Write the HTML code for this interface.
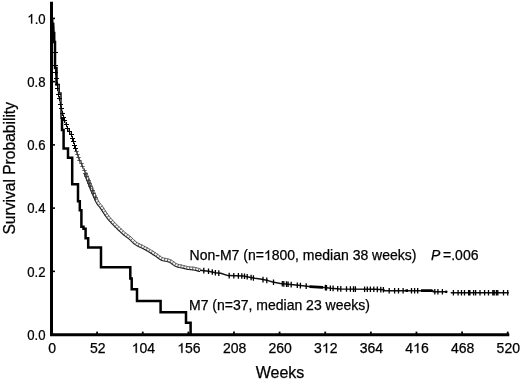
<!DOCTYPE html>
<html><head><meta charset="utf-8"><title>Survival</title>
<style>
html,body{margin:0;padding:0;background:#fff;}
body{width:520px;height:379px;overflow:hidden;}
svg{display:block;filter:grayscale(1);}
text{font-family:"Liberation Sans", sans-serif;font-size:14px;fill:#000;stroke:#000;stroke-width:0.25px;}
.h{fill:none;stroke:none;}
</style></head>
<body>
<svg width="520" height="379" viewBox="0 0 520 379">
<rect width="520" height="379" fill="#fff"/>
<path d="M51.5 1.8 V334.7 H509.3" fill="none" stroke="#000" stroke-width="3.0" stroke-linejoin="miter"/>
<path d="M51.5 334.60 H55" stroke="#000" stroke-width="1.6"/>
<text id="t0" transform="translate(45.6 339.80) scale(0.94 1)" text-anchor="end">0.0</text>
<path d="M51.5 271.36 H55" stroke="#000" stroke-width="1.6"/>
<text id="t1" transform="translate(45.6 276.56) scale(0.94 1)" text-anchor="end">0.2</text>
<path d="M51.5 208.12 H55" stroke="#000" stroke-width="1.6"/>
<text id="t2" transform="translate(45.6 213.32) scale(0.94 1)" text-anchor="end">0.4</text>
<path d="M51.5 144.88 H55" stroke="#000" stroke-width="1.6"/>
<text id="t3" transform="translate(45.6 150.08) scale(0.94 1)" text-anchor="end">0.6</text>
<path d="M51.5 81.64 H55" stroke="#000" stroke-width="1.6"/>
<text id="t4" transform="translate(45.6 86.84) scale(0.94 1)" text-anchor="end">0.8</text>
<path d="M51.5 18.40 H55" stroke="#000" stroke-width="1.6"/>
<text id="t5" transform="translate(45.6 23.60) scale(0.94 1)" text-anchor="end"><tspan class="h">1</tspan>.0</text>
<path d="M51.50 334.5 V331.6" stroke="#000" stroke-width="1.8"/>
<text id="t6" x="52.10" y="352.8" text-anchor="middle">0</text>
<path d="M97.12 334.5 V331.6" stroke="#000" stroke-width="1.8"/>
<text id="t7" x="97.72" y="352.8" text-anchor="middle">52</text>
<path d="M142.74 334.5 V331.6" stroke="#000" stroke-width="1.8"/>
<text id="t8" x="143.34" y="352.8" text-anchor="middle"><tspan class="h">1</tspan>04</text>
<path d="M188.36 334.5 V331.6" stroke="#000" stroke-width="1.8"/>
<text id="t9" x="188.96" y="352.8" text-anchor="middle"><tspan class="h">1</tspan>56</text>
<path d="M233.98 334.5 V331.6" stroke="#000" stroke-width="1.8"/>
<text id="t10" x="234.58" y="352.8" text-anchor="middle">208</text>
<path d="M279.60 334.5 V331.6" stroke="#000" stroke-width="1.8"/>
<text id="t11" x="280.20" y="352.8" text-anchor="middle">260</text>
<path d="M325.22 334.5 V331.6" stroke="#000" stroke-width="1.8"/>
<text id="t12" x="325.82" y="352.8" text-anchor="middle">3<tspan class="h">1</tspan>2</text>
<path d="M370.84 334.5 V331.6" stroke="#000" stroke-width="1.8"/>
<text id="t13" x="371.44" y="352.8" text-anchor="middle">364</text>
<path d="M416.46 334.5 V331.6" stroke="#000" stroke-width="1.8"/>
<text id="t14" x="417.06" y="352.8" text-anchor="middle">4<tspan class="h">1</tspan>6</text>
<path d="M462.08 334.5 V331.6" stroke="#000" stroke-width="1.8"/>
<text id="t15" x="462.68" y="352.8" text-anchor="middle">468</text>
<path d="M507.70 334.5 V331.6" stroke="#000" stroke-width="1.8"/>
<text id="t16" x="508.30" y="352.8" text-anchor="middle">520</text>
<text x="280.0" y="378.0" text-anchor="middle" style="font-size:16px">Weeks</text>
<text transform="translate(14.5 168.3) rotate(-90)" text-anchor="middle" style="font-size:15.6px">Survival Probability</text>
<text id="t17" x="189.6" y="260.0">Non-M7 (n=<tspan class="h">1</tspan>800, median 38 weeks)</text>
<text x="431" y="260.0"><tspan font-style="italic">P</tspan><tspan dx="-1.2"> =.006</tspan></text>
<text x="189.0" y="310.2">M7 (n=37, median 23 weeks)</text>
<path d="M51.50 18.40 L51.64 18.76 L51.84 19.24 L52.08 19.82 L52.33 20.49 L52.57 21.22 L52.80 22.00 L53.01 22.79 L53.23 23.60 L53.44 24.48 L53.65 25.47 L53.84 26.62 L54.00 28.00 L54.13 29.62 L54.24 31.44 L54.34 33.44 L54.42 35.56 L54.51 37.76 L54.60 40.00 L54.70 42.33 L54.80 44.78 L54.90 47.31 L55.00 49.89 L55.10 52.47 L55.20 55.00 L55.30 57.56 L55.39 60.19 L55.48 62.81 L55.57 65.37 L55.68 67.79 L55.80 70.00 L55.94 71.98 L56.10 73.78 L56.27 75.44 L56.45 77.00 L56.63 78.51 L56.80 80.00 L56.97 81.45 L57.14 82.82 L57.31 84.13 L57.47 85.41 L57.64 86.70 L57.80 88.00 L57.95 89.32 L58.08 90.63 L58.21 91.94 L58.35 93.25 L58.51 94.57 L58.70 95.90 L58.93 97.28 L59.18 98.71 L59.46 100.16 L59.74 101.56 L60.03 102.89 L60.30 104.10 L60.57 105.19 L60.86 106.19 L61.14 107.11 L61.42 107.96 L61.67 108.75 L61.90 109.50 L62.08 110.14 L62.23 110.66 L62.36 111.11 L62.49 111.58 L62.63 112.12 L62.80 112.80 L63.01 113.67 L63.23 114.67 L63.48 115.75 L63.72 116.84 L63.97 117.88 L64.20 118.80 L64.42 119.60 L64.64 120.32 L64.85 120.99 L65.06 121.63 L65.28 122.26 L65.50 122.90 L65.72 123.53 L65.94 124.14 L66.16 124.74 L66.39 125.34 L66.64 125.96 L66.90 126.60 L67.18 127.28 L67.48 127.99 L67.79 128.71 L68.12 129.43 L68.45 130.13 L68.80 130.80 L69.17 131.43 L69.57 132.04 L69.98 132.63 L70.39 133.21 L70.76 133.80 L71.10 134.40 L71.39 135.00 L71.63 135.60 L71.86 136.19 L72.07 136.80 L72.28 137.44 L72.50 138.10 L72.73 138.79 L72.94 139.49 L73.16 140.21 L73.39 140.96 L73.63 141.75 L73.90 142.60 L74.20 143.51 L74.52 144.48 L74.86 145.49 L75.21 146.52 L75.56 147.57 L75.90 148.60 L76.23 149.64 L76.56 150.70 L76.89 151.78 L77.23 152.84 L77.56 153.89 L77.90 154.90 L78.23 155.86 L78.56 156.76 L78.88 157.64 L79.22 158.54 L79.59 159.48 L80.00 160.50 L80.47 161.63 L80.99 162.85 L81.54 164.12 L82.09 165.38 L82.62 166.59 L83.10 167.70 L83.56 168.75 L84.01 169.80 L84.44 170.80 L84.83 171.70 L85.16 172.45 L85.40 173.00" fill="none" stroke="#222" stroke-width="0.8" stroke-linejoin="round" stroke-linecap="round"/>
<path d="M85.40 173.00 L85.79 173.97 L86.32 175.30 L86.95 176.88 L87.64 178.59 L88.34 180.34 L89.00 182.00 L89.64 183.61 L90.29 185.26 L90.94 186.94 L91.61 188.63 L92.30 190.32 L93.00 192.00 L93.73 193.72 L94.48 195.50 L95.24 197.28 L96.01 199.00 L96.77 200.59 L97.50 202.00 L98.18 203.13 L98.81 204.02 L99.44 204.79 L100.09 205.54 L100.79 206.41 L101.60 207.50 L102.50 208.85 L103.48 210.37 L104.51 212.00 L105.60 213.67 L106.73 215.33 L107.90 216.90 L109.12 218.40 L110.41 219.89 L111.74 221.36 L113.10 222.81 L114.46 224.22 L115.80 225.60 L117.15 226.96 L118.53 228.32 L119.91 229.64 L121.26 230.91 L122.57 232.11 L123.80 233.20 L124.94 234.15 L126.01 234.98 L127.02 235.73 L128.01 236.45 L129.00 237.19 L130.00 238.00 L131.00 238.90 L131.98 239.86 L132.96 240.83 L133.94 241.79 L134.95 242.69 L136.00 243.50 L137.10 244.20 L138.24 244.80 L139.40 245.36 L140.57 245.89 L141.75 246.42 L142.90 247.00 L144.04 247.61 L145.17 248.22 L146.30 248.84 L147.43 249.48 L148.56 250.13 L149.70 250.80 L150.86 251.51 L152.05 252.25 L153.24 253.01 L154.41 253.76 L155.54 254.50 L156.60 255.20 L157.56 255.88 L158.41 256.54 L159.23 257.19 L160.06 257.81 L160.97 258.38 L162.00 258.90 L163.21 259.32 L164.55 259.65 L165.96 259.93 L167.39 260.22 L168.75 260.56 L170.00 261.00 L171.10 261.58 L172.11 262.27 L173.06 263.02 L174.00 263.76 L174.97 264.44 L176.00 265.00 L177.13 265.43 L178.33 265.79 L179.56 266.08 L180.78 266.33 L181.94 266.56 L183.00 266.80 L183.93 267.04 L184.74 267.26 L185.50 267.46 L186.26 267.65 L187.07 267.83 L188.00 268.00 L189.07 268.15 L190.26 268.27 L191.50 268.39 L192.74 268.50 L193.93 268.64 L195.00 268.80 L196.01 269.01 L197.00 269.27 L197.94 269.55 L198.78 269.81 L199.48 270.04 L200.00 270.20" fill="none" stroke="#f2f2f2" stroke-width="3.8" stroke-linejoin="round" stroke-linecap="round"/>
<path d="M84.10 173.52 L84.49 174.49 L85.02 175.82 L85.65 177.39 L86.34 179.11 L87.04 180.86 L87.70 182.52 L88.34 184.12 L88.98 185.77 L89.64 187.45 L90.32 189.15 L91.00 190.85 L91.71 192.54 L92.44 194.26 L93.19 196.05 L93.96 197.84 L94.74 199.59 L95.51 201.22 L96.28 202.68 L97.01 203.90 L97.70 204.87 L98.36 205.68 L99.01 206.44 L99.69 207.27 L100.45 208.30 L101.33 209.62 L102.30 211.12 L103.33 212.76 L104.44 214.45 L105.59 216.14 L106.79 217.76 L108.05 219.30 L109.36 220.82 L110.71 222.31 L112.08 223.77 L113.45 225.19 L114.80 226.58 L116.16 227.95 L117.55 229.32 L118.94 230.66 L120.31 231.94 L121.63 233.15 L122.89 234.26 L124.06 235.24 L125.16 236.10 L126.20 236.86 L127.18 237.58 L128.14 238.30 L129.09 239.07 L130.04 239.92 L131.00 240.85 L131.97 241.83 L132.99 242.81 L134.06 243.77 L135.20 244.65 L136.39 245.41 L137.61 246.05 L138.81 246.63 L139.99 247.16 L141.14 247.68 L142.26 248.24 L143.37 248.84 L144.50 249.45 L145.62 250.07 L146.74 250.70 L147.86 251.34 L148.98 252.00 L150.13 252.70 L151.30 253.43 L152.48 254.18 L153.64 254.94 L154.77 255.67 L155.81 256.36 L156.72 257.00 L157.55 257.64 L158.38 258.30 L159.27 258.97 L160.28 259.60 L161.46 260.19 L162.81 260.66 L164.25 261.02 L165.69 261.30 L167.08 261.58 L168.35 261.90 L169.44 262.28 L170.38 262.78 L171.28 263.40 L172.20 264.12 L173.16 264.88 L174.23 265.63 L175.42 266.27 L176.69 266.76 L177.98 267.14 L179.26 267.44 L180.50 267.70 L181.65 267.93 L182.67 268.16 L183.57 268.39 L184.38 268.61 L185.15 268.82 L185.94 269.02 L186.80 269.20 L187.78 269.38 L188.91 269.54 L190.12 269.67 L191.37 269.78 L192.60 269.90 L193.74 270.02 L194.75 270.18 L195.68 270.38 L196.63 270.62 L197.53 270.89 L198.35 271.15 L199.06 271.38 L199.59 271.54" fill="none" stroke="#1a1a1a" stroke-width="1.1" stroke-linejoin="round" stroke-linecap="round"/>
<path d="M86.70 172.48 L87.09 173.45 L87.62 174.78 L88.25 176.36 L88.94 178.07 L89.64 179.82 L90.30 181.48 L90.94 183.10 L91.59 184.75 L92.25 186.42 L92.91 188.11 L93.59 189.79 L94.29 191.46 L95.02 193.17 L95.77 194.95 L96.53 196.72 L97.28 198.41 L98.02 199.97 L98.72 201.32 L99.35 202.37 L99.93 203.18 L100.51 203.89 L101.16 204.65 L101.90 205.55 L102.75 206.70 L103.68 208.08 L104.66 209.62 L105.69 211.24 L106.76 212.90 L107.87 214.52 L109.01 216.04 L110.20 217.50 L111.46 218.96 L112.77 220.41 L114.12 221.84 L115.47 223.25 L116.80 224.62 L118.14 225.97 L119.50 227.31 L120.87 228.63 L122.21 229.89 L123.51 231.07 L124.71 232.14 L125.82 233.06 L126.85 233.86 L127.85 234.60 L128.85 235.33 L129.86 236.09 L130.91 236.93 L131.96 237.88 L132.97 238.86 L133.94 239.83 L134.90 240.77 L135.84 241.61 L136.80 242.35 L137.80 242.99 L138.87 243.55 L139.99 244.09 L141.15 244.61 L142.35 245.16 L143.54 245.76 L144.70 246.38 L145.84 246.99 L146.98 247.62 L148.12 248.26 L149.27 248.92 L150.42 249.60 L151.60 250.32 L152.80 251.06 L153.99 251.83 L155.17 252.59 L156.30 253.33 L157.39 254.04 L158.39 254.75 L159.28 255.44 L160.08 256.08 L160.85 256.66 L161.65 257.16 L162.54 257.61 L163.60 257.98 L164.85 258.28 L166.24 258.56 L167.69 258.85 L169.15 259.22 L170.56 259.72 L171.83 260.38 L172.94 261.15 L173.93 261.92 L174.84 262.64 L175.70 263.25 L176.58 263.73 L177.58 264.11 L178.69 264.43 L179.86 264.71 L181.06 264.95 L182.23 265.19 L183.33 265.44 L184.28 265.69 L185.10 265.91 L185.85 266.11 L186.58 266.29 L187.35 266.46 L188.22 266.62 L189.24 266.76 L190.40 266.88 L191.63 266.99 L192.88 267.11 L194.11 267.25 L195.25 267.42 L196.33 267.65 L197.37 267.92 L198.34 268.21 L199.20 268.48 L199.90 268.71 L200.41 268.86" fill="none" stroke="#555" stroke-width="0.9" stroke-linejoin="round" stroke-linecap="round"/>
<path d="M87.63 173.72 L84.29 175.06 M88.74 176.51 L85.40 177.84 M89.85 179.29 L86.51 180.62 M90.97 182.08 L87.62 183.40 M92.07 184.87 L88.72 186.19 M93.16 187.65 L89.82 188.98 M94.28 190.40 L90.96 191.78 M95.44 193.15 L92.12 194.55 M96.61 195.90 L93.30 197.32 M97.80 198.58 L94.55 200.12 M99.06 201.10 L95.97 202.96 M100.60 203.36 L97.81 205.64 M102.55 205.75 L99.65 207.89 M104.31 208.32 L101.27 210.26 M105.92 210.86 L102.88 212.79 M107.53 213.31 L104.56 215.34 M109.24 215.69 L106.35 217.83 M111.06 217.89 L108.34 220.25 M113.03 220.10 L110.36 222.52 M115.05 222.24 L112.45 224.73 M117.12 224.37 L114.56 226.90 M119.22 226.48 L116.69 229.04 M121.34 228.52 L118.88 231.15 M123.53 230.55 L121.10 233.20 M125.73 232.46 L123.42 235.23 M128.01 234.22 L125.88 237.12 M130.47 236.07 L128.21 238.87 M132.84 238.17 L130.32 240.75 M134.97 240.28 L132.46 242.86 M136.96 241.98 L135.04 245.02 M139.38 243.35 L137.83 246.60 M142.08 244.59 L140.58 247.87 M144.85 246.00 L143.15 249.17 M147.51 247.46 L145.74 250.60 M150.14 248.97 L148.31 252.07 M152.74 250.55 L150.83 253.61 M155.28 252.19 L153.33 255.21 M157.85 253.88 L155.77 256.82 M160.31 255.75 L158.07 258.57 M162.52 257.15 L160.91 260.37 M164.92 257.89 L164.22 261.42 M167.94 258.50 L167.07 262.00 M171.18 259.59 L169.51 262.77 M173.94 261.42 L171.72 264.26 M176.11 263.01 L174.40 266.18 M178.54 263.97 L177.53 267.43 M181.31 264.60 L180.60 268.13 M184.33 265.28 L183.43 268.77 M187.16 266.01 L186.39 269.52 M189.93 266.43 L189.55 270.01 M192.89 266.71 L192.56 270.29 M196.06 267.19 L195.31 270.71 M199.11 268.03 L198.03 271.47" stroke="#444" stroke-width="0.8" fill="none"/>
<path d="M53.00 52.50 H58.00 M55.50 50.00 V55.00 M53.00 65.50 H58.00 M55.50 63.00 V68.00 M53.00 72.50 H58.00 M55.50 70.00 V75.00 M54.00 78.50 H59.00 M56.50 76.00 V81.00 M55.00 84.50 H60.00 M57.50 82.00 V87.00 M55.00 88.50 H60.00 M57.50 86.00 V91.00 M56.00 94.50 H61.00 M58.50 92.00 V97.00 M57.00 98.50 H62.00 M59.50 96.00 V101.00 M58.00 104.50 H63.00 M60.50 102.00 V107.00 M59.00 108.50 H64.00 M61.50 106.00 V111.00 M60.00 113.50 H65.00 M62.50 111.00 V116.00 M61.00 117.50 H66.00 M63.50 115.00 V120.00 M62.00 120.50 H67.00 M64.50 118.00 V123.00 M64.00 124.50 H69.00 M66.50 122.00 V127.00 M65.00 128.50 H70.00 M67.50 126.00 V131.00 M67.00 131.50 H72.00 M69.50 129.00 V134.00 M69.00 134.50 H74.00 M71.50 132.00 V137.00 M70.00 138.50 H75.00 M72.50 136.00 V141.00 M71.00 141.50 H76.00 M73.50 139.00 V144.00 M72.00 145.50 H77.00 M74.50 143.00 V148.00 M73.00 148.50 H78.00 M75.50 146.00 V151.00" stroke="#000" stroke-width="1.0" fill="none"/><path d="M74.30 151.50 H78.70 M76.50 149.30 V153.70 M75.30 154.50 H79.70 M77.50 152.30 V156.70 M76.30 157.50 H80.70 M78.50 155.30 V159.70 M77.30 160.50 H81.70 M79.50 158.30 V162.70 M79.30 163.50 H83.70 M81.50 161.30 V165.70 M80.30 166.50 H84.70 M82.50 164.30 V168.70 M82.30 170.50 H86.70 M84.50 168.30 V172.70 M83.30 173.50 H87.70 M85.50 171.30 V175.70 M84.30 176.50 H88.70 M86.50 174.30 V178.70 M86.30 180.50 H90.70 M88.50 178.30 V182.70 M87.30 183.50 H91.70 M89.50 181.30 V185.70 M88.30 186.50 H92.70 M90.50 184.30 V188.70 M90.30 190.50 H94.70 M92.50 188.30 V192.70 M91.30 193.50 H95.70 M93.50 191.30 V195.70 M93.30 197.50 H97.70 M95.50 195.30 V199.70" stroke="#333" stroke-width="0.8" fill="none"/>
<path d="M200.00 270.20 L208.50 271.20 L215.40 272.70 L220.80 273.30 L228.00 275.60 L243.40 276.00 L249.50 277.20 L254.90 278.30 L260.30 279.10 L268.00 280.60 L272.70 282.00 L280.40 283.50 L288.00 284.30 L295.80 285.10 L305.00 286.00 L315.40 287.20 L324.60 287.50 L330.80 288.30 L340.00 288.90 L375.00 289.30 L384.00 289.80 L384.00 290.70 L433.00 290.70 L433.00 291.80 L447.00 291.80" fill="none" stroke="#111" stroke-width="1.5" stroke-linejoin="round"/>
<path d="M450.70 292.75 L508.80 292.75" fill="none" stroke="#111" stroke-width="1.6"/>
<path d="M309.5 286.6 L323 287.3 M421 290.7 H432.5 M405.5 290.7 H408" stroke="#000" stroke-width="2.8" fill="none"/>
<circle cx="446.2" cy="291.8" r="1.4" fill="#000"/>
<path d="M203.8 267.8 V273.4 M208.5 268.4 V274.0 M212.3 269.2 V274.8 M215.4 269.9 V275.5 M218.8 270.3 V275.9 M229.2 272.8 V278.4 M233.8 273.0 V278.6 M238.4 273.1 V278.7 M241.8 273.2 V278.8 M244.5 273.4 V279.0 M247.2 273.9 V279.5 M251.1 274.7 V280.3 M253.4 275.2 V280.8 M263.0 276.8 V282.4 M266.8 277.6 V283.2 M273.5 279.4 V285.0 M282.3 280.9 V286.5 M283.8 281.1 V286.7 M286.5 281.3 V286.9 M288.1 281.5 V287.1 M291.2 281.8 V287.4 M297.3 282.4 V288.0 M300.4 282.8 V288.4 M306.2 283.3 V288.9 M325.4 284.8 V290.4 M326.5 284.9 V290.5 M330.4 285.4 V291.0 M333.1 285.6 V291.2 M337.7 285.9 V291.6 M340.8 286.1 V291.7 M346.5 286.2 V291.8 M350.4 286.2 V291.8 M353.5 286.3 V291.9 M355.4 286.3 V291.9 M364.6 286.4 V292.0 M367.3 286.4 V292.0 M370.4 286.4 V292.0 M373.8 286.5 V292.1 M377.3 286.6 V292.2 M380.8 286.8 V292.4 M383.4 287.0 V292.6 M389.2 287.9 V293.5 M394.6 287.9 V293.5 M398.5 287.9 V293.5 M403.1 287.9 V293.5 M411.5 287.9 V293.5 M414.6 287.9 V293.5 M417.7 287.9 V293.5 M434.8 289.0 V294.6 M437.9 289.0 V294.6 M442.4 289.0 V294.6 M453.4 289.9 V295.6 M458.1 289.9 V295.6 M461.5 289.9 V295.6 M464.5 289.9 V295.6 M468.6 289.9 V295.6 M469.9 289.9 V295.6 M473.6 289.9 V295.6 M475.6 289.9 V295.6 M480.0 289.9 V295.6 M484.6 289.9 V295.6 M488.5 289.9 V295.6 M492.8 289.9 V295.6 M494.2 289.9 V295.6 M496.4 289.9 V295.6 M497.8 289.9 V295.6 M503.5 289.9 V295.6 M507.7 289.9 V295.6" stroke="#000" stroke-width="1.3" fill="none"/>
<path d="M52.20 18.40 L52.20 24.00 L53.20 24.00 L53.20 33.00 L54.20 33.00 L54.20 42.00 L55.00 42.00 L55.00 68.00 L56.50 68.00 L56.50 84.50 L58.30 84.50" fill="none" stroke="#000" stroke-width="2.5" stroke-linejoin="miter"/>
<path d="M58.30 84.50 L59.20 84.50 L59.20 93.00 L61.00 93.00 L61.00 119.00" fill="none" stroke="#111" stroke-width="1.5" stroke-linejoin="miter"/>
<path d="M61.00 119.00 L62.00 119.00 L62.00 130.00 L63.60 130.00 L63.60 148.50 L68.00 148.50 L68.00 157.70 L72.20 157.70 L72.20 184.30 L78.00 184.30 L78.00 201.30 L79.80 201.30 L79.80 210.30 L81.40 210.30 L81.40 226.70 L83.50 226.70 L83.50 228.80 L85.60 228.80 L85.60 238.20 L88.20 238.20 L88.20 247.50 L101.00 247.50 L101.00 267.30 L130.30 267.30 L130.30 278.50 L131.70 278.50 L131.70 289.20 L137.00 289.20 L137.00 300.90 L160.60 300.90 L160.60 312.20 L186.00 312.20 L186.00 322.70 L190.60 322.70 L190.60 334.50" fill="none" stroke="#000" stroke-width="2.5" stroke-linejoin="miter"/>
<path transform="matrix(0.9400 0.0000 0.0000 1.0000 45.600 23.600)" d="M-14.25 0.00H-15.48V-7.52Q-15.92 -7.11 -16.65 -6.70Q-17.37 -6.29 -17.94 -6.08V-7.25Q-16.91 -7.72 -16.14 -8.41Q-15.36 -9.09 -15.04 -9.63H-14.25Z" fill="#000" stroke="#000" stroke-width="0.25"/>
<path d="M136.87 352.80H135.64V345.28Q135.19 345.69 134.47 346.10Q133.75 346.51 133.18 346.72V345.55Q134.21 345.08 134.98 344.39Q135.75 343.71 136.08 343.17H136.87Z" fill="#000" stroke="#000" stroke-width="0.25"/>
<path d="M182.49 352.80H181.26V345.28Q180.81 345.69 180.09 346.10Q179.37 346.51 178.80 346.72V345.55Q179.83 345.08 180.60 344.39Q181.37 343.71 181.70 343.17H182.49Z" fill="#000" stroke="#000" stroke-width="0.25"/>
<path d="M327.14 352.80H325.91V345.28Q325.46 345.69 324.74 346.10Q324.02 346.51 323.45 346.72V345.55Q324.48 345.08 325.25 344.39Q326.02 343.71 326.34 343.17H327.14Z" fill="#000" stroke="#000" stroke-width="0.25"/>
<path d="M418.38 352.80H417.15V345.28Q416.70 345.69 415.98 346.10Q415.26 346.51 414.69 346.72V345.55Q415.72 345.08 416.49 344.39Q417.26 343.71 417.58 343.17H418.38Z" fill="#000" stroke="#000" stroke-width="0.25"/>
<path d="M269.13 260.00H267.90V252.48Q267.45 252.89 266.73 253.30Q266.01 253.71 265.44 253.92V252.75Q266.47 252.28 267.24 251.59Q268.01 250.91 268.34 250.37H269.13Z" fill="#000" stroke="#000" stroke-width="0.25"/>
</svg>
</body></html>
